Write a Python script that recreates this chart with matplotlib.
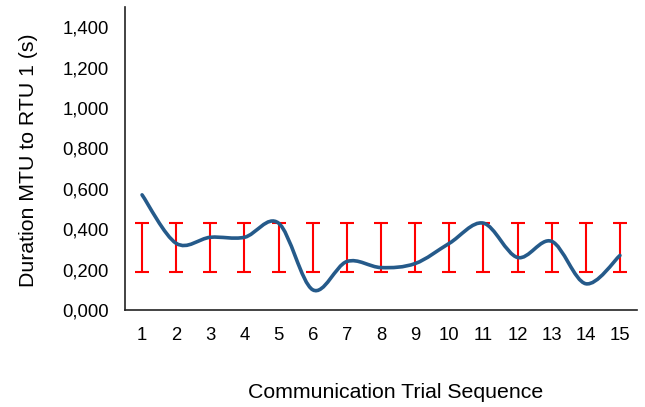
import matplotlib
matplotlib.use("Agg")
import matplotlib.pyplot as plt
from matplotlib.path import Path
from matplotlib.patches import PathPatch
import numpy as np

plt.rcParams['font.family'] = ['Liberation Sans', 'DejaVu Sans']

# data
trials = list(range(1, 16))
duration = [0.57, 0.33, 0.36, 0.36, 0.43, 0.10, 0.24, 0.21, 0.23, 0.33, 0.43, 0.26, 0.34, 0.13, 0.27]
err_center = [0.31] * 15
err_half = [0.12] * 15
y_ticks = [0.0, 0.2, 0.4, 0.6, 0.8, 1.0, 1.2, 1.4]


def smooth_path(x, y):
    # Excel-style smoothed line: cubic bezier through the points (Catmull-Rom tangents)
    x = np.asarray(x, float)
    y = np.asarray(y, float)
    verts = [(x[0], y[0])]
    codes = [Path.MOVETO]
    n = len(x)
    for i in range(n - 1):
        x0, y0 = (x[i - 1], y[i - 1]) if i > 0 else (x[i], y[i])
        x3, y3 = (x[i + 2], y[i + 2]) if i + 2 < n else (x[i + 1], y[i + 1])
        c1 = (x[i] + (x[i + 1] - x0) / 6, y[i] + (y[i + 1] - y0) / 6)
        c2 = (x[i + 1] - (x3 - x[i]) / 6, y[i + 1] - (y3 - y[i]) / 6)
        verts += [c1, c2, (x[i + 1], y[i + 1])]
        codes += [Path.CURVE4] * 3
    return Path(verts, codes)


fig = plt.figure(figsize=(6.45, 4.07), dpi=100)
ax = fig.add_axes([125 / 645, 1 - 310 / 407, 512 / 645, 303 / 407])

ax.errorbar(trials, err_center, yerr=err_half, fmt='none', ecolor='#ff0000',
            elinewidth=1.5, capsize=4.7, capthick=1.5, zorder=2)
ax.add_patch(PathPatch(smooth_path(trials, duration), facecolor='none',
                       edgecolor='#255a8a', linewidth=2.6, capstyle='round', zorder=3))

ax.set_xlim(0.5, 15.5)
ax.set_ylim(0, 1.5)
ax.set_xticks(trials)
ax.set_xticklabels([str(t) for t in trials])
ax.set_yticks(y_ticks)
ax.set_yticklabels([f"{v:.3f}".replace('.', ',') for v in y_ticks])
ax.tick_params(axis='both', length=0, labelsize=13.3)
ax.tick_params(axis='x', pad=12)
ax.tick_params(axis='y', pad=11.5)

for s in ['top', 'right']:
    ax.spines[s].set_visible(False)
for s in ['left', 'bottom']:
    ax.spines[s].set_linewidth(1.2)
    ax.spines[s].set_color('#222222')

ax.set_xlabel('Communication Trial Sequence', fontsize=15.3)
ax.xaxis.set_label_coords((396 - 125) / 512, (310 - 393) / 303)
ax.xaxis.label.set_va('center')
ax.set_ylabel('Duration MTU to RTU 1 (s)', fontsize=15.3)
ax.yaxis.set_label_coords((28 - 125) / 512, (310 - 160) / 303)
ax.yaxis.label.set_va('center')

fig.savefig('out.png', dpi=100)
